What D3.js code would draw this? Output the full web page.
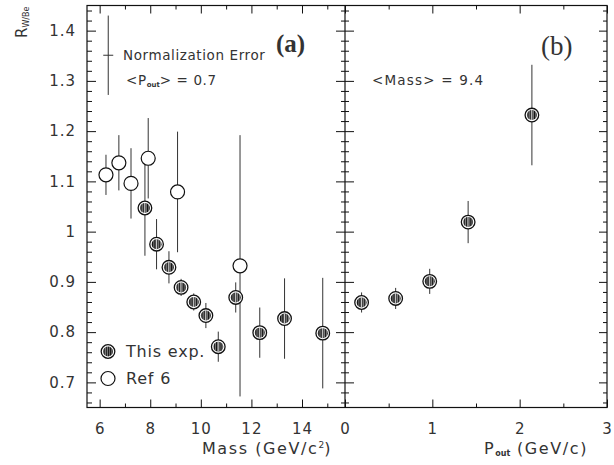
<!DOCTYPE html>
<html>
<head>
<meta charset="utf-8">
<script src="https://d3js.org/d3.v7.min.js"></script>
<style>
  body { margin: 0; background: #fff; }
  text { font-family: "DejaVu Sans", "Liberation Sans", sans-serif; fill: #333; }
</style>
</head>
<body>
<svg id="chart" width="614" height="465"></svg>
<script>
// panel (a): ratio vs mass
const massThis = [7.79, 8.25, 8.74, 9.22, 9.72, 10.2, 10.69, 11.38, 12.33, 13.31, 14.82];
const rThis    = [1.047, 0.975, 0.929, 0.889, 0.860, 0.833, 0.771, 0.869, 0.799, 0.827, 0.798];
const errThis  = [0.095, 0.05, 0.032, 0.017, 0.017, 0.025, 0.03, 0.03, 0.05, 0.08, 0.11];

const massRef = [6.25, 6.76, 7.24, 7.92, 9.08, 11.55];
const rRef    = [1.113, 1.137, 1.096, 1.146, 1.079, 0.932];
const errRef  = [0.04, 0.055, 0.07, 0.08, 0.12, 0.26];

// panel (b): ratio vs pout
const pout  = [0.19, 0.58, 0.97, 1.41, 2.14];
const rPout = [0.859, 0.867, 0.901, 1.019, 1.232];
const errPout = [0.02, 0.021, 0.025, 0.042, 0.1];

const normMass = 6.34, normR = 1.351, normErr = 0.079;

const yTicks = [0.7, 0.8, 0.9, 1, 1.1, 1.2, 1.3, 1.4];
const massTicks = [6, 8, 10, 12, 14];
const massMinor = [7, 9, 11, 13, 15];
const poutTicks = [0, 1, 2, 3];
const poutMinor = [0.5, 1.5, 2.5];

const svg = d3.select("#chart");
const yTop = 5.5, yBot = 407.5, xLeft = 87, xMid = 345, xRight = 607;

const y  = d3.scaleLinear().domain([0.65, 1.45]).range([yBot, yTop]);
const xa = d3.scaleLinear().domain([5.5, 15.7]).range([xLeft, xMid]);
const xb = d3.scaleLinear().domain([0, 3]).range([xMid, xRight]);

const yMinor = d3.range(0.66, 1.45, 0.02).filter(v => Math.abs(v * 10 - Math.round(v * 10)) > 0.01);

// hatch pattern for this experiment markers
const defs = svg.append("defs");
const pat = defs.append("pattern").attr("id", "hatch").attr("patternUnits", "userSpaceOnUse")
  .attr("width", 2.2).attr("height", 4);
pat.append("rect").attr("width", 2.2).attr("height", 4).attr("fill", "#111");
pat.append("line").attr("x1", 1.6).attr("x2", 1.6).attr("y1", 0).attr("y2", 4)
  .attr("stroke", "#ddd").attr("stroke-width", 0.7);

function styleAxis(g) {
  g.select(".domain").remove();
  g.selectAll(".tick line").attr("stroke", "#111").attr("stroke-width", 1);
  g.selectAll(".tick text").style("font-size", "15px").style("letter-spacing", "1px").attr("fill", "#444");
}

// y axes: left (a), middle boundary (both sides), right (b)
const fmtY = d => d === 1 ? "1" : d.toFixed(1);
svg.append("g").attr("transform", `translate(${xLeft},0)`)
  .call(d3.axisLeft(y).tickValues(yTicks).tickSize(-9).tickPadding(11).tickFormat(fmtY))
  .call(styleAxis);
svg.append("g").attr("transform", `translate(${xLeft},0)`)
  .call(d3.axisLeft(y).tickValues(yMinor).tickSize(-5).tickFormat(""))
  .call(styleAxis);

[[yTicks, 9], [yMinor, 4]].forEach(([vals, s]) => {
  svg.append("g").attr("transform", `translate(${xMid},0)`)
    .call(d3.axisLeft(y).tickValues(vals).tickSize(s).tickFormat(""))
    .call(styleAxis);
  svg.append("g").attr("transform", `translate(${xMid},0)`)
    .call(d3.axisRight(y).tickValues(vals).tickSize(s).tickFormat(""))
    .call(styleAxis);
});
svg.append("g").attr("transform", `translate(${xRight},0)`)
  .call(d3.axisRight(y).tickValues(yTicks).tickSize(-8).tickFormat(""))
  .call(styleAxis);
svg.append("g").attr("transform", `translate(${xRight},0)`)
  .call(d3.axisRight(y).tickValues(yMinor).tickSize(-4).tickFormat(""))
  .call(styleAxis);

// x axes bottom and top
svg.append("g").attr("transform", `translate(0,${yBot})`)
  .call(d3.axisBottom(xa).tickValues(massTicks).tickSize(-8).tickPadding(16).tickFormat(d3.format("d")))
  .call(styleAxis);
svg.append("g").attr("transform", `translate(0,${yBot})`)
  .call(d3.axisBottom(xa).tickValues(massMinor).tickSize(-4).tickFormat(""))
  .call(styleAxis);
svg.append("g").attr("transform", `translate(0,${yBot})`)
  .call(d3.axisBottom(xb).tickValues(poutTicks).tickSize(-8).tickPadding(16).tickFormat(d3.format("d")))
  .call(styleAxis);
svg.append("g").attr("transform", `translate(0,${yBot})`)
  .call(d3.axisBottom(xb).tickValues(poutMinor).tickSize(-4).tickFormat(""))
  .call(styleAxis);
svg.append("g").attr("transform", `translate(0,${yTop})`)
  .call(d3.axisTop(xa).tickValues(massTicks).tickSize(-8).tickFormat(""))
  .call(styleAxis);
svg.append("g").attr("transform", `translate(0,${yTop})`)
  .call(d3.axisTop(xa).tickValues(massMinor).tickSize(-4).tickFormat(""))
  .call(styleAxis);
svg.append("g").attr("transform", `translate(0,${yTop})`)
  .call(d3.axisTop(xb).tickValues(poutTicks).tickSize(-8).tickFormat(""))
  .call(styleAxis);
svg.append("g").attr("transform", `translate(0,${yTop})`)
  .call(d3.axisTop(xb).tickValues(poutMinor).tickSize(-4).tickFormat(""))
  .call(styleAxis);

// frames
svg.append("rect").attr("x", xLeft).attr("y", yTop).attr("width", xRight - xLeft).attr("height", yBot - yTop)
  .attr("fill", "none").attr("stroke", "#111").attr("stroke-width", 1.2);
svg.append("line").attr("x1", xMid).attr("x2", xMid).attr("y1", yTop).attr("y2", yBot)
  .attr("stroke", "#111").attr("stroke-width", 1.2);

// error bars
function bars(xs, ys, es, xsc) {
  svg.append("g").selectAll("line").data(xs).join("line")
    .attr("x1", d => xsc(d)).attr("x2", d => xsc(d))
    .attr("y1", (d, i) => y(ys[i] + es[i])).attr("y2", (d, i) => y(ys[i] - es[i]))
    .attr("stroke", "#333").attr("stroke-width", 1);
}
bars(massRef, rRef, errRef, xa);
bars(massThis, rThis, errThis, xa);
bars(pout, rPout, errPout, xb);

function openMarks(xs, ys, xsc) {
  svg.append("g").selectAll("circle").data(xs).join("circle")
    .attr("cx", d => xsc(d)).attr("cy", (d, i) => y(ys[i])).attr("r", 7)
    .attr("fill", "#fff").attr("stroke", "#111").attr("stroke-width", 1.2);
}
function hatchMarks(xs, ys, xsc) {
  const g = svg.append("g").selectAll("g").data(xs).join("g")
    .attr("transform", (d, i) => `translate(${xsc(d)},${y(ys[i])})`);
  g.append("circle").attr("r", 6.8).attr("fill", "#fff").attr("stroke", "#111").attr("stroke-width", 1.3);
  g.append("circle").attr("r", 5).attr("fill", "url(#hatch)");
  g.append("line").attr("x1", 0).attr("x2", 0).attr("y1", -5).attr("y2", 5).attr("stroke", "#eee").attr("stroke-width", 0.8);
}
openMarks(massRef, rRef, xa);
hatchMarks(massThis, rThis, xa);
hatchMarks(pout, rPout, xb);

// normalization error bar
svg.append("line").attr("x1", xa(normMass)).attr("x2", xa(normMass))
  .attr("y1", y(normR + normErr)).attr("y2", y(normR - normErr)).attr("stroke", "#333");
svg.append("line").attr("x1", xa(normMass) - 5).attr("x2", xa(normMass) + 5)
  .attr("y1", y(normR)).attr("y2", y(normR)).attr("stroke", "#333");

// texts
svg.append("text").attr("x", 123).attr("y", 60).style("font-size", "13.5px").style("letter-spacing", "0.6px")
  .text("Normalization Error");
const t1 = svg.append("text").attr("x", 126).attr("y", 85).style("font-size", "13.5px").style("letter-spacing", "0.6px");
t1.append("tspan").text("<P");
t1.append("tspan").attr("dy", 2).style("font-size", "7px").style("font-weight", "bold").style("letter-spacing", "0").text("out");
t1.append("tspan").attr("dy", -2).text("> = 0.7");
svg.append("text").attr("x", 372).attr("y", 85).style("font-size", "13.5px").style("letter-spacing", "1.2px")
  .text("<Mass> = 9.4");

svg.append("text").attr("x", 276).attr("y", 52).style("font-family", "'Liberation Serif', serif")
  .style("font-size", "25px").style("font-weight", "bold").attr("fill", "#111").text("(a)");
svg.append("text").attr("x", 541).attr("y", 55).style("font-family", "'Liberation Serif', serif")
  .style("font-size", "27px").attr("fill", "#111").text("(b)");

// legend
const lg = svg.append("g").attr("transform", "translate(108,351.5)");
lg.append("circle").attr("r", 6.8).attr("fill", "#fff").attr("stroke", "#111").attr("stroke-width", 1.3);
lg.append("circle").attr("r", 5).attr("fill", "url(#hatch)");
svg.append("circle").attr("cx", 108).attr("cy", 378.5).attr("r", 7)
  .attr("fill", "#fff").attr("stroke", "#111").attr("stroke-width", 1.2);
svg.append("text").attr("x", 126).attr("y", 357).style("font-size", "16px").style("letter-spacing", "0.8px").text("This exp.");
svg.append("text").attr("x", 126).attr("y", 384).style("font-size", "16px").style("letter-spacing", "0.8px").text("Ref 6");

// axis titles
const xt = svg.append("text").attr("x", 267).attr("y", 454).attr("text-anchor", "middle")
  .style("font-size", "16px").style("letter-spacing", "1.6px");
xt.append("tspan").text("Mass (GeV/c");
xt.append("tspan").attr("dy", -6).style("font-size", "9px").style("letter-spacing", "0").text("2");
xt.append("tspan").attr("dy", 6).text(")");

const pt = svg.append("text").attr("x", 536).attr("y", 454).attr("text-anchor", "middle")
  .style("font-size", "16px").style("letter-spacing", "1.6px");
pt.append("tspan").text("P");
pt.append("tspan").attr("dy", 2).style("font-size", "8px").style("font-weight", "bold").style("letter-spacing", "0").text("out");
pt.append("tspan").attr("dy", -2).text(" (GeV/c)");

const yt = svg.append("text").attr("transform", "translate(27,38) rotate(-90)").style("font-size", "15px");
yt.append("tspan").text("R");
yt.append("tspan").attr("dy", 2).style("font-size", "8px").text("W/Be");
</script>
</body>
</html>
